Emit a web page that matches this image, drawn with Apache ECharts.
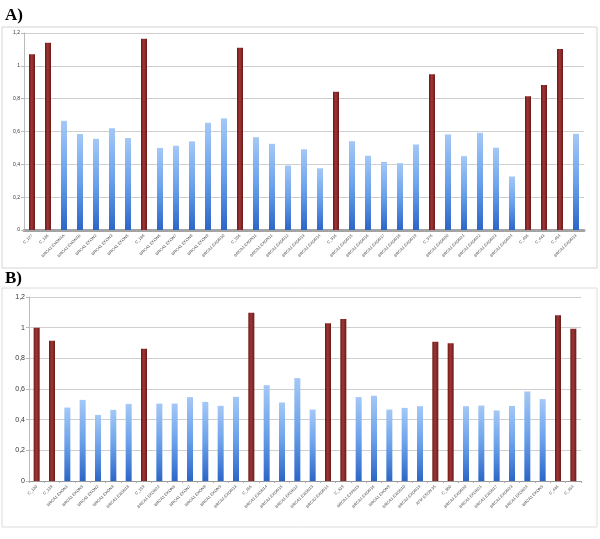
<!DOCTYPE html>
<html>
<head>
<meta charset="UTF-8">
<title>Exon dosage ratios</title>
<script src="https://cdn.jsdelivr.net/npm/echarts@6/dist/echarts.min.js"></script>
<style>
  html, body { margin: 0; padding: 0; background: #fff; }
  #chart { width: 600px; height: 539px; }
</style>
</head>
<body>
<div id="chart"></div>
<script>
// panel A
const labelsA = ['C_127', 'C_136', 'BRCA1 EXON1A', 'BRCA1 EXON1B', 'BRCA1 EXON2', 'BRCA1 EXON3', 'BRCA1 EXON5',
  'C_188', 'BRCA1 EXON6', 'BRCA1 EXON7', 'BRCA1 EXON8', 'BRCA1 EXON9', 'BRCA1 EXON10',
  'C_206', 'BRCA1 EXON11', 'BRCA1 EXON11', 'BRCA1 EXON12', 'BRCA1 EXON13', 'BRCA1 EXON14',
  'C_316', 'BRCA1 EXON15', 'BRCA1 EXON16', 'BRCA1 EXON17', 'BRCA1 EXON18', 'BRCA1 EXON19',
  'C_376', 'BRCA1 EXON20', 'BRCA1 EXON21', 'BRCA1 EXON22', 'BRCA1 EXON23', 'BRCA1 EXON24',
  'C_436', 'C_443', 'C_454', 'BRCA1 EXON13'];
const valuesA = [1.07, 1.14, 0.665, 0.585, 0.555, 0.62, 0.56,
  1.165, 0.50, 0.513, 0.54, 0.653, 0.68,
  1.11, 0.565, 0.525, 0.393, 0.492, 0.376,
  0.842, 0.541, 0.452, 0.415, 0.407, 0.521,
  0.948, 0.582, 0.45, 0.592, 0.501, 0.326,
  0.814, 0.883, 1.103, 0.586];
const redA = [1, 1, 0, 0, 0, 0, 0, 1, 0, 0, 0, 0, 0, 1, 0, 0, 0, 0, 0,
  1, 0, 0, 0, 0, 0, 1, 0, 0, 0, 0, 0, 1, 1, 1, 0];

// panel B
const labelsB = ['C_130', 'C_139', 'BRCA1 EXON1', 'BRCA1 EXON5', 'BRCA1 EXON2', 'BRCA1 EXON3', 'BRCA1 EXON18',
  'C_159', 'BRCA1 EXON22', 'BRCA1 EXON6', 'BRCA1 EXON7', 'BRCA1 EXON8', 'BRCA1 EXON9', 'BRCA1 EXON13',
  'C_256', 'BRCA1 EXON14', 'BRCA1 EXON15', 'BRCA1 EXON12', 'BRCA1 EXON13', 'BRCA2 EXON14',
  'C_319', 'BRCA1 EXPN15', 'BRCA1 EXON16', 'BRCA1 EXON9', 'BRCA1 EXON10', 'BRCA1 EXON19', 'ATM EXON 35',
  'C_380', 'BRCA1 EXON20', 'BRCA1 EXON21', 'BRCA1 EXON17', 'BRCA1 EXON23', 'BRCA1 EXON24', 'BRCA1 EXON5',
  'C_446', 'C_454'];
const valuesB = [1.0, 0.915, 0.479, 0.529, 0.431, 0.464, 0.503,
  0.863, 0.505, 0.505, 0.547, 0.516, 0.49, 0.549,
  1.098, 0.625, 0.512, 0.671, 0.466, 1.028,
  1.057, 0.547, 0.556, 0.466, 0.477, 0.488, 0.908,
  0.898, 0.488, 0.492, 0.46, 0.49, 0.584, 0.534,
  1.081, 0.993];
const redB = [1, 1, 0, 0, 0, 0, 0, 1, 0, 0, 0, 0, 0, 0, 1, 0, 0, 0, 0, 1,
  1, 0, 0, 0, 0, 0, 1, 1, 0, 0, 0, 0, 0, 0, 1, 1];

const yTicks = [0, 0.2, 0.4, 0.6, 0.8, 1, 1.2];

const blueFill = new echarts.graphic.LinearGradient(0, 0, 0, 1, [
  { offset: 0, color: '#a4c8f6' },
  { offset: 0.5, color: '#6ba1ea' },
  { offset: 1, color: '#2c66c8' }
]);
const redFill = new echarts.graphic.LinearGradient(0, 0, 1, 0, [
  { offset: 0, color: '#6a1a1a' },
  { offset: 0.45, color: '#a13535' },
  { offset: 1, color: '#6a1a1a' }
]);

function barData(vals, red) {
  return vals.map((v, i) => ({
    value: v,
    itemStyle: { color: red[i] ? redFill : blueFill }
  }));
}

function yAxis(idx, fs) {
  return {
    type: 'value', gridIndex: idx, min: 0, max: 1.2, interval: 0.2,
    axisLine: { show: true, lineStyle: { color: '#bbb' } },
    axisTick: { show: true, length: 3, lineStyle: { color: '#bbb' } },
    splitLine: { lineStyle: { color: '#cfcfcf' } },
    axisLabel: {
      fontSize: fs, color: '#333', margin: 4,
      formatter: v => yTicks.includes(+v.toFixed(1)) ? String(+v.toFixed(1)).replace('.', ',') : ''
    }
  };
}

function xAxis(idx, labels, lineW, lineC) {
  return {
    type: 'category', gridIndex: idx, data: labels,
    axisLine: { lineStyle: { color: lineC, width: lineW } },
    axisTick: { show: true, length: 2, lineStyle: { color: '#aaa' } },
    axisLabel: { interval: 0, rotate: 45, fontSize: 4, color: '#444', margin: 5 }
  };
}

const chart = echarts.init(document.getElementById('chart'));
chart.setOption({
  animation: false,
  backgroundColor: '#fff',
  textStyle: { fontFamily: 'Liberation Sans, sans-serif' },
  grid: [
    { left: 24, right: 16, top: 33, bottom: 309 },
    { left: 29, right: 19, top: 297, bottom: 58 }
  ],
  xAxis: [
    xAxis(0, labelsA, 3, '#a3a3a3'),
    xAxis(1, labelsB, 1, '#999')
  ],
  yAxis: [yAxis(0, 5), yAxis(1, 7)],
  series: [
    { type: 'bar', xAxisIndex: 0, yAxisIndex: 0, barWidth: 6, data: barData(valuesA, redA) },
    { type: 'bar', xAxisIndex: 1, yAxisIndex: 1, barWidth: 6, data: barData(valuesB, redB) }
  ],
  graphic: [
    { type: 'rect', shape: { x: 2, y: 27, width: 595, height: 241 }, style: { fill: 'none', stroke: '#d4d4d4', lineWidth: 1 }, z: -1 },
    { type: 'rect', shape: { x: 2, y: 288, width: 595, height: 239 }, style: { fill: 'none', stroke: '#dcdcdc', lineWidth: 1 }, z: -1 },
    { type: 'text', left: 5, top: 7, style: { text: 'A)', font: 'bold 17px "Liberation Serif", serif', fill: '#000' } },
    { type: 'text', left: 5, top: 270, style: { text: 'B)', font: 'bold 17px "Liberation Serif", serif', fill: '#000' } }
  ]
});
</script>
</body>
</html>
